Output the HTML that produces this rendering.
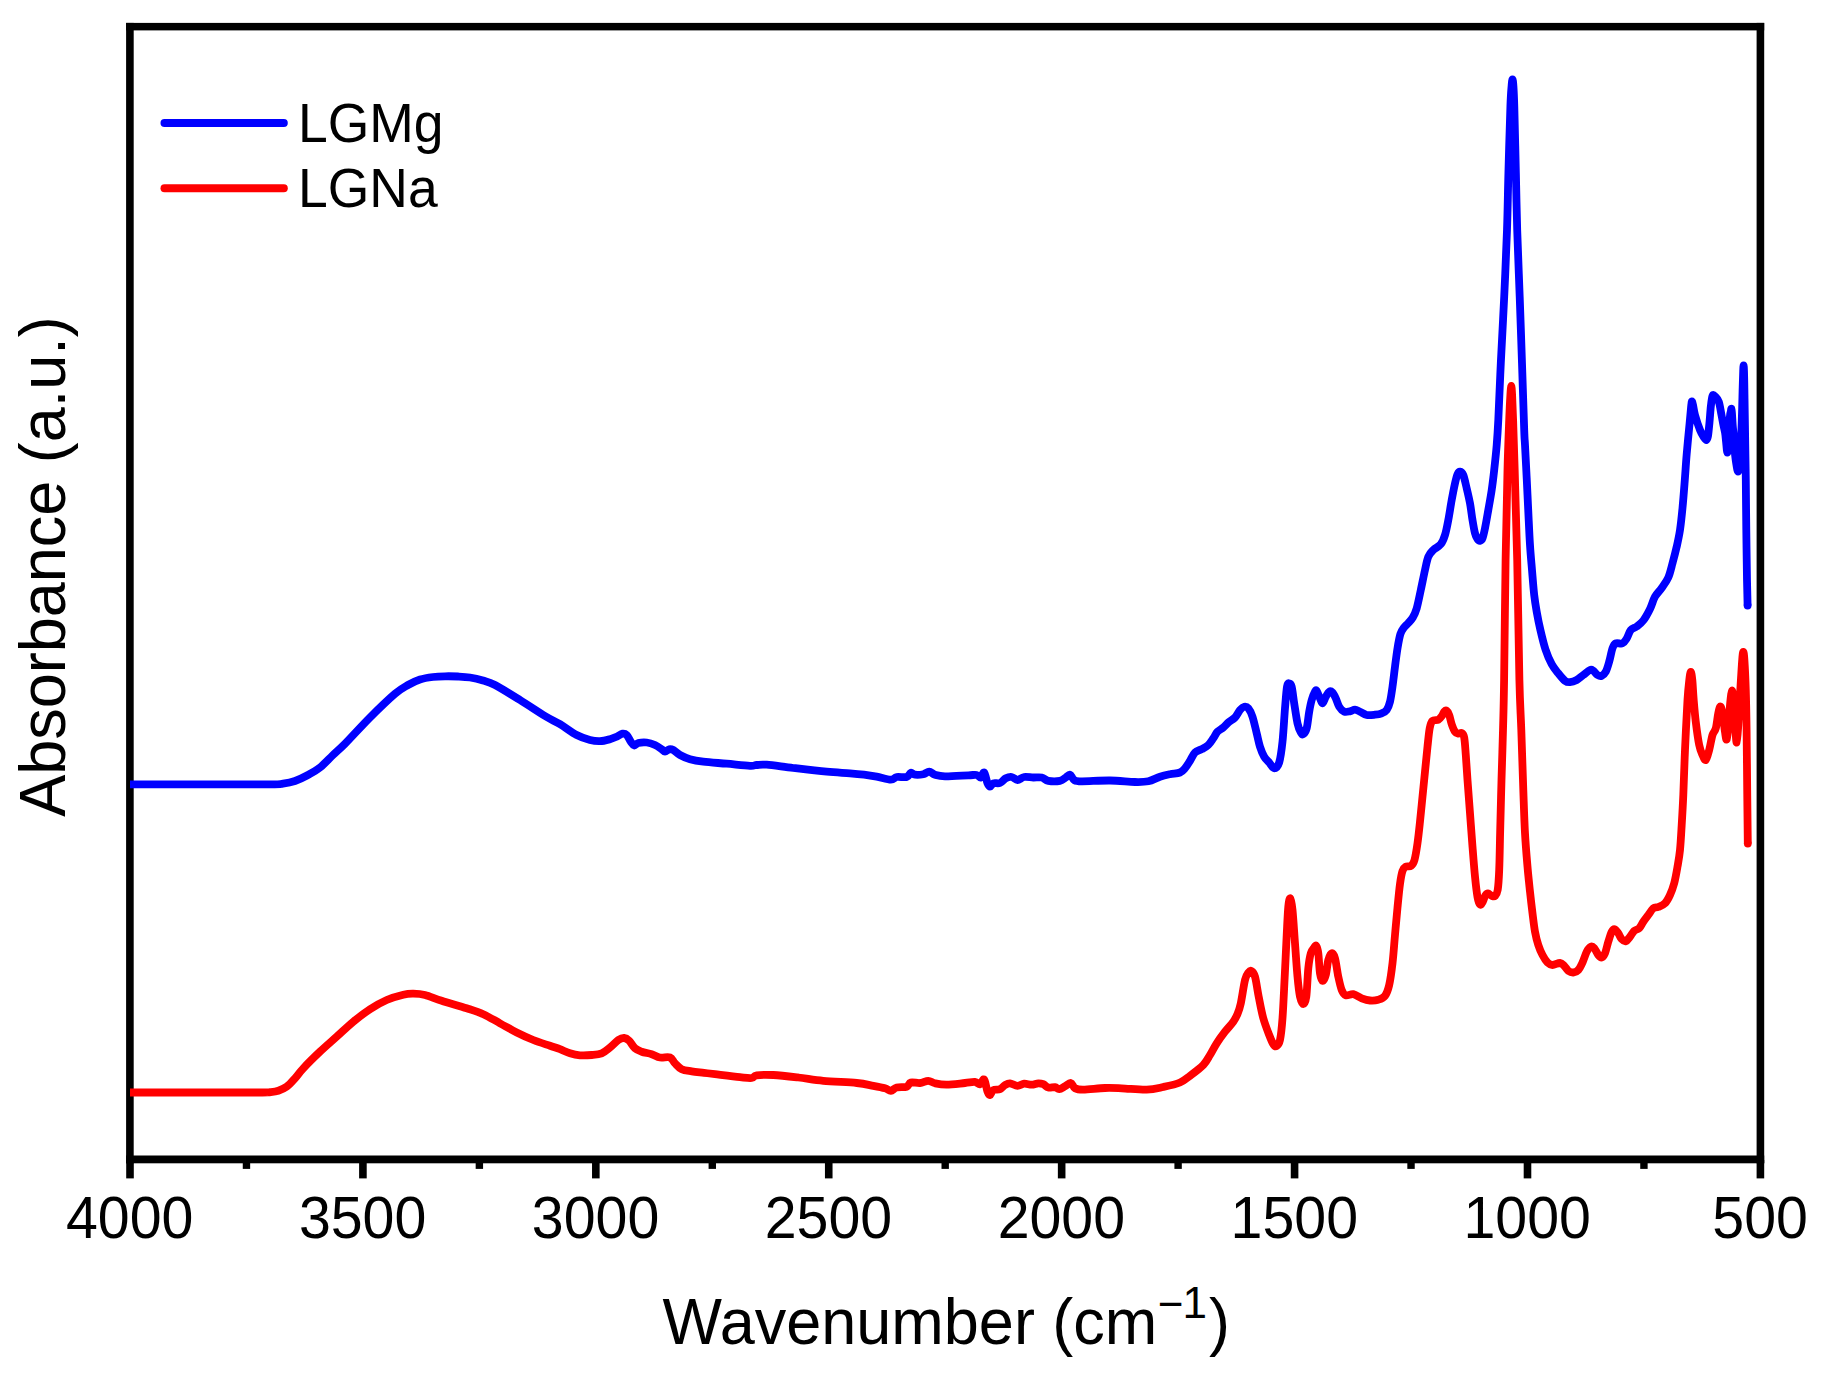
<!DOCTYPE html>
<html><head><meta charset="utf-8"><title>FTIR</title>
<style>
html,body{margin:0;padding:0;background:#fff;}
body{width:1824px;height:1374px;overflow:hidden;}
svg{display:block;font-family:"Liberation Sans",sans-serif;}
</style></head><body>
<svg width="1824" height="1374" viewBox="0 0 1824 1374">
<rect width="1824" height="1374" fill="#fff"/>
<g fill="#000">
<rect x="126.1" y="22.9" width="7.6" height="1140.4"/>
<rect x="1756.6" y="22.9" width="7.6" height="1140.4"/>
<rect x="126.1" y="22.9" width="1638.1" height="7.5"/>
<rect x="126.1" y="1155.5" width="1638.1" height="7.8"/>
<rect x="126.20" y="1160" width="7.6" height="18.4"/><rect x="242.76" y="1160" width="7.4" height="8.9"/><rect x="359.11" y="1160" width="7.6" height="18.4"/><rect x="475.67" y="1160" width="7.4" height="8.9"/><rect x="592.03" y="1160" width="7.6" height="18.4"/><rect x="708.59" y="1160" width="7.4" height="8.9"/><rect x="824.94" y="1160" width="7.6" height="18.4"/><rect x="941.50" y="1160" width="7.4" height="8.9"/><rect x="1057.86" y="1160" width="7.6" height="18.4"/><rect x="1174.41" y="1160" width="7.4" height="8.9"/><rect x="1290.77" y="1160" width="7.6" height="18.4"/><rect x="1407.33" y="1160" width="7.4" height="8.9"/><rect x="1523.69" y="1160" width="7.6" height="18.4"/><rect x="1640.24" y="1160" width="7.4" height="8.9"/><rect x="1756.60" y="1160" width="7.6" height="18.4"/>
</g>
<g fill="none" stroke-linejoin="round" stroke-linecap="butt" stroke-width="7.8">
<path stroke="#0000ff" d="M130.00 784.30C141.67 784.30 176.67 784.30 200.00 784.30C223.33 784.30 256.17 784.42 270.00 784.30C283.83 784.18 278.83 784.15 283.00 783.60C287.17 783.05 291.00 782.35 295.00 781.00C299.00 779.65 302.83 777.75 307.00 775.50C311.17 773.25 315.67 770.92 320.00 767.50C324.33 764.08 328.83 758.95 333.00 755.00C337.17 751.05 338.83 750.05 345.00 743.80C351.17 737.55 361.67 725.83 370.00 717.50C378.33 709.17 388.67 699.22 395.00 693.80C401.33 688.38 403.83 687.38 408.00 685.00C412.17 682.62 415.83 680.83 420.00 679.50C424.17 678.17 428.83 677.53 433.00 677.00C437.17 676.47 440.83 676.38 445.00 676.30C449.17 676.22 453.83 676.30 458.00 676.50C462.17 676.70 465.83 676.83 470.00 677.50C474.17 678.17 478.83 679.25 483.00 680.50C487.17 681.75 488.83 681.75 495.00 685.00C501.17 688.25 511.67 694.83 520.00 700.00C528.33 705.17 538.33 711.97 545.00 716.00C551.67 720.03 554.72 721.03 560.00 724.20C565.28 727.37 571.70 732.37 576.70 735.00C581.70 737.63 586.12 738.97 590.00 740.00C593.88 741.03 596.67 741.33 600.00 741.20C603.33 741.07 607.22 739.95 610.00 739.20C612.78 738.45 614.62 737.62 616.70 736.70C618.78 735.78 620.83 733.98 622.50 733.70C624.17 733.42 625.32 733.67 626.70 735.00C628.08 736.33 629.55 739.95 630.80 741.70C632.05 743.45 632.95 745.28 634.20 745.50C635.45 745.72 636.22 743.50 638.30 743.00C640.38 742.50 643.92 742.17 646.70 742.50C649.48 742.83 652.50 743.88 655.00 745.00C657.50 746.12 660.03 748.08 661.70 749.20C663.37 750.32 663.75 751.70 665.00 751.70C666.25 751.70 667.82 749.48 669.20 749.20C670.58 748.92 671.50 749.03 673.30 750.00C675.10 750.97 677.22 753.47 680.00 755.00C682.78 756.53 686.12 758.08 690.00 759.20C693.88 760.32 697.18 760.95 703.30 761.70C709.42 762.45 718.92 763.02 726.70 763.70C734.48 764.38 745.00 765.58 750.00 765.80C755.00 766.02 753.92 765.18 756.70 765.00C759.48 764.82 760.60 764.20 766.70 764.70C772.80 765.20 783.30 766.83 793.30 768.00C803.30 769.17 817.25 770.82 826.70 771.70C836.15 772.58 843.78 772.80 850.00 773.30C856.22 773.80 859.55 774.13 864.00 774.70C868.45 775.27 872.23 775.87 876.70 776.70C881.17 777.53 887.47 779.65 890.80 779.70C894.13 779.75 894.05 777.45 896.70 777.00C899.35 776.55 904.35 777.70 906.70 777.00C909.05 776.30 909.42 773.18 910.80 772.80C912.18 772.42 912.92 774.47 915.00 774.70C917.08 774.93 920.93 774.70 923.30 774.20C925.67 773.70 927.25 771.62 929.20 771.70C931.15 771.78 932.37 773.93 935.00 774.70C937.63 775.47 939.45 776.20 945.00 776.30C950.55 776.40 963.02 775.52 968.30 775.30C973.58 775.08 974.62 774.63 976.70 775.00C978.78 775.37 979.55 777.92 980.80 777.50C982.05 777.08 983.08 771.53 984.20 772.50C985.32 773.47 986.53 780.93 987.50 783.30C988.47 785.67 989.03 786.70 990.00 786.70C990.97 786.70 991.63 783.92 993.30 783.30C994.97 782.68 997.92 783.83 1000.00 783.00C1002.08 782.17 1003.85 779.30 1005.80 778.30C1007.75 777.30 1009.75 776.72 1011.70 777.00C1013.65 777.28 1015.42 780.00 1017.50 780.00C1019.58 780.00 1021.57 777.42 1024.20 777.00C1026.83 776.58 1030.38 777.42 1033.30 777.50C1036.22 777.58 1039.20 776.95 1041.70 777.50C1044.20 778.05 1045.25 780.25 1048.30 780.80C1051.35 781.35 1057.08 781.35 1060.00 780.80C1062.92 780.25 1064.13 778.52 1065.80 777.50C1067.47 776.48 1068.60 774.28 1070.00 774.70C1071.40 775.12 1072.25 778.90 1074.20 780.00C1076.15 781.10 1075.73 781.22 1081.70 781.30C1087.67 781.38 1101.12 780.38 1110.00 780.50C1118.88 780.62 1128.62 781.87 1135.00 782.00C1141.38 782.13 1144.13 782.18 1148.30 781.30C1152.47 780.42 1156.38 777.88 1160.00 776.70C1163.62 775.52 1166.67 774.90 1170.00 774.20C1173.33 773.50 1177.50 773.48 1180.00 772.50C1182.50 771.52 1183.33 770.25 1185.00 768.30C1186.67 766.35 1188.33 763.43 1190.00 760.80C1191.67 758.17 1193.05 754.43 1195.00 752.50C1196.95 750.57 1199.48 750.45 1201.70 749.20C1203.92 747.95 1206.37 746.82 1208.30 745.00C1210.23 743.18 1211.77 740.52 1213.30 738.30C1214.83 736.08 1215.83 733.50 1217.50 731.70C1219.17 729.90 1221.50 729.03 1223.30 727.50C1225.10 725.97 1226.35 724.17 1228.30 722.50C1230.25 720.83 1233.05 719.58 1235.00 717.50C1236.95 715.42 1238.47 711.80 1240.00 710.00C1241.53 708.20 1242.82 706.98 1244.20 706.70C1245.58 706.42 1246.92 706.63 1248.30 708.30C1249.68 709.97 1251.10 712.53 1252.50 716.70C1253.90 720.87 1255.45 728.30 1256.70 733.30C1257.95 738.30 1258.75 742.80 1260.00 746.70C1261.25 750.60 1262.67 754.07 1264.20 756.70C1265.73 759.33 1267.53 760.57 1269.20 762.50C1270.87 764.43 1272.53 768.30 1274.20 768.30C1275.87 768.30 1277.82 766.93 1279.20 762.50C1280.58 758.07 1281.53 750.73 1282.50 741.70C1283.47 732.67 1284.25 717.47 1285.00 708.30C1285.75 699.13 1286.30 690.87 1287.00 686.70C1287.70 682.53 1288.42 683.30 1289.20 683.30C1289.98 683.30 1290.87 683.37 1291.70 686.70C1292.53 690.03 1293.23 697.20 1294.20 703.30C1295.17 709.40 1296.40 718.43 1297.50 723.30C1298.60 728.17 1299.83 730.68 1300.80 732.50C1301.77 734.32 1302.32 734.90 1303.30 734.20C1304.28 733.50 1305.72 732.05 1306.70 728.30C1307.68 724.55 1308.37 716.42 1309.20 711.70C1310.03 706.98 1310.73 703.33 1311.70 700.00C1312.67 696.67 1314.17 693.23 1315.00 691.70C1315.83 690.17 1315.87 689.70 1316.70 690.80C1317.53 691.90 1319.03 696.22 1320.00 698.30C1320.97 700.38 1321.53 703.57 1322.50 703.30C1323.47 703.03 1324.68 698.63 1325.80 696.70C1326.92 694.77 1328.08 692.40 1329.20 691.70C1330.32 691.00 1331.40 691.40 1332.50 692.50C1333.60 693.60 1334.68 695.93 1335.80 698.30C1336.92 700.67 1337.80 704.47 1339.20 706.70C1340.60 708.93 1342.40 710.93 1344.20 711.70C1346.00 712.47 1348.20 711.63 1350.00 711.30C1351.80 710.97 1353.33 709.63 1355.00 709.70C1356.67 709.77 1358.05 710.82 1360.00 711.70C1361.95 712.58 1364.20 714.50 1366.70 715.00C1369.20 715.50 1372.50 714.98 1375.00 714.70C1377.50 714.42 1379.75 714.08 1381.70 713.30C1383.65 712.52 1385.32 711.93 1386.70 710.00C1388.08 708.07 1389.03 705.58 1390.00 701.70C1390.97 697.82 1391.67 692.53 1392.50 686.70C1393.33 680.87 1394.17 673.10 1395.00 666.70C1395.83 660.30 1396.60 653.75 1397.50 648.30C1398.40 642.85 1399.32 637.47 1400.40 634.00C1401.48 630.53 1402.68 629.33 1404.00 627.50C1405.32 625.67 1406.83 624.67 1408.30 623.00C1409.77 621.33 1411.40 619.95 1412.80 617.50C1414.20 615.05 1415.37 612.88 1416.70 608.30C1418.03 603.72 1419.42 596.38 1420.80 590.00C1422.18 583.62 1423.75 575.55 1425.00 570.00C1426.25 564.45 1426.92 560.03 1428.30 556.70C1429.68 553.37 1431.22 552.08 1433.30 550.00C1435.38 547.92 1438.85 546.70 1440.80 544.20C1442.75 541.70 1443.75 539.03 1445.00 535.00C1446.25 530.97 1447.18 525.83 1448.30 520.00C1449.42 514.17 1450.58 506.12 1451.70 500.00C1452.82 493.88 1454.03 487.60 1455.00 483.30C1455.97 479.00 1456.67 476.13 1457.50 474.20C1458.33 472.27 1459.03 471.57 1460.00 471.70C1460.97 471.83 1462.18 472.23 1463.30 475.00C1464.42 477.77 1465.58 483.58 1466.70 488.30C1467.82 493.02 1469.03 498.02 1470.00 503.30C1470.97 508.58 1471.67 515.00 1472.50 520.00C1473.33 525.00 1474.17 530.10 1475.00 533.30C1475.83 536.50 1476.67 537.95 1477.50 539.20C1478.33 540.45 1479.17 540.95 1480.00 540.80C1480.83 540.65 1481.67 540.38 1482.50 538.30C1483.33 536.22 1484.03 533.02 1485.00 528.30C1485.97 523.58 1487.18 516.38 1488.30 510.00C1489.42 503.62 1490.72 496.67 1491.70 490.00C1492.68 483.33 1493.37 477.50 1494.20 470.00C1495.03 462.50 1496.02 453.33 1496.70 445.00C1497.38 436.67 1497.62 433.62 1498.30 420.00C1498.98 406.38 1499.82 383.85 1500.80 363.30C1501.78 342.75 1503.17 318.92 1504.20 296.70C1505.23 274.48 1506.30 250.57 1507.00 230.00C1507.70 209.43 1507.83 193.85 1508.40 173.30C1508.97 152.75 1509.87 121.25 1510.40 106.70C1510.93 92.15 1511.25 90.53 1511.60 86.00C1511.95 81.47 1512.20 79.50 1512.50 79.50C1512.80 79.50 1513.10 81.47 1513.40 86.00C1513.70 90.53 1513.88 92.15 1514.30 106.70C1514.72 121.25 1515.42 152.75 1515.90 173.30C1516.38 193.85 1516.57 209.43 1517.20 230.00C1517.83 250.57 1518.90 274.48 1519.70 296.70C1520.50 318.92 1521.25 341.08 1522.00 363.30C1522.75 385.52 1523.70 416.38 1524.20 430.00C1524.70 443.62 1524.58 436.95 1525.00 445.00C1525.42 453.05 1526.15 467.18 1526.70 478.30C1527.25 489.42 1527.75 500.58 1528.30 511.70C1528.85 522.82 1529.38 535.28 1530.00 545.00C1530.62 554.72 1531.30 561.67 1532.00 570.00C1532.70 578.33 1533.42 588.05 1534.20 595.00C1534.98 601.95 1535.67 605.87 1536.70 611.70C1537.73 617.53 1538.93 623.70 1540.40 630.00C1541.87 636.30 1543.62 643.80 1545.50 649.50C1547.38 655.20 1549.57 660.23 1551.70 664.20C1553.83 668.17 1556.08 670.53 1558.30 673.30C1560.52 676.07 1563.05 679.32 1565.00 680.80C1566.95 682.28 1568.05 682.33 1570.00 682.20C1571.95 682.07 1574.48 681.20 1576.70 680.00C1578.92 678.80 1581.08 676.67 1583.30 675.00C1585.52 673.33 1588.33 670.70 1590.00 670.00C1591.67 669.30 1592.05 669.97 1593.30 670.80C1594.55 671.63 1596.10 674.17 1597.50 675.00C1598.90 675.83 1600.32 676.35 1601.70 675.80C1603.08 675.25 1604.55 674.05 1605.80 671.70C1607.05 669.35 1608.08 665.60 1609.20 661.70C1610.32 657.80 1611.40 651.37 1612.50 648.30C1613.60 645.23 1614.13 644.13 1615.80 643.30C1617.47 642.47 1620.68 644.10 1622.50 643.30C1624.32 642.50 1625.32 640.72 1626.70 638.50C1628.08 636.28 1629.13 632.00 1630.80 630.00C1632.47 628.00 1634.62 628.08 1636.70 626.50C1638.78 624.92 1641.08 623.42 1643.30 620.50C1645.52 617.58 1648.05 612.97 1650.00 609.00C1651.95 605.03 1653.05 600.20 1655.00 596.70C1656.95 593.20 1659.48 591.20 1661.70 588.00C1663.92 584.80 1666.50 581.62 1668.30 577.50C1670.10 573.38 1671.10 568.43 1672.50 563.30C1673.90 558.17 1675.45 552.25 1676.70 546.70C1677.95 541.15 1679.03 536.45 1680.00 530.00C1680.97 523.55 1681.70 516.33 1682.50 508.00C1683.30 499.67 1684.10 489.00 1684.80 480.00C1685.50 471.00 1685.90 463.45 1686.70 454.00C1687.50 444.55 1688.88 430.97 1689.60 423.30C1690.32 415.63 1690.63 411.63 1691.00 408.00C1691.37 404.37 1691.47 402.00 1691.80 401.50C1692.13 401.00 1692.47 402.75 1693.00 405.00C1693.53 407.25 1693.83 410.83 1695.00 415.00C1696.17 419.17 1698.50 426.25 1700.00 430.00C1701.50 433.75 1702.93 435.83 1704.00 437.50C1705.07 439.17 1705.73 440.25 1706.40 440.00C1707.07 439.75 1707.50 438.78 1708.00 436.00C1708.50 433.22 1708.93 428.18 1709.40 423.30C1709.87 418.42 1710.37 410.92 1710.80 406.70C1711.23 402.48 1711.63 399.95 1712.00 398.00C1712.37 396.05 1712.50 395.28 1713.00 395.00C1713.50 394.72 1714.03 395.18 1715.00 396.30C1715.97 397.42 1717.72 398.58 1718.80 401.70C1719.88 404.82 1720.73 411.12 1721.50 415.00C1722.27 418.88 1722.80 422.00 1723.40 425.00C1724.00 428.00 1724.65 430.17 1725.10 433.00C1725.55 435.83 1725.73 438.72 1726.10 442.00C1726.47 445.28 1726.93 452.70 1727.30 452.70C1727.67 452.70 1727.87 448.00 1728.30 442.00C1728.73 436.00 1729.48 421.78 1729.90 416.70C1730.32 411.62 1730.55 412.83 1730.80 411.50C1731.05 410.17 1731.22 408.53 1731.40 408.70C1731.58 408.87 1731.68 409.78 1731.90 412.50C1732.12 415.22 1732.40 421.08 1732.70 425.00C1733.00 428.92 1733.30 431.00 1733.70 436.00C1734.10 441.00 1734.58 449.83 1735.10 455.00C1735.62 460.17 1736.32 464.25 1736.80 467.00C1737.28 469.75 1737.67 471.50 1738.00 471.50C1738.33 471.50 1738.40 470.58 1738.80 467.00C1739.20 463.42 1739.92 457.33 1740.40 450.00C1740.88 442.67 1741.33 433.00 1741.70 423.00C1742.07 413.00 1742.35 398.67 1742.60 390.00C1742.85 381.33 1743.03 375.08 1743.20 371.00C1743.37 366.92 1743.47 365.50 1743.60 365.50C1743.73 365.50 1743.87 366.92 1744.00 371.00C1744.13 375.08 1744.17 376.17 1744.40 390.00C1744.63 403.83 1745.17 439.00 1745.40 454.00C1745.63 469.00 1745.65 467.33 1745.80 480.00C1745.95 492.67 1746.10 513.33 1746.30 530.00C1746.50 546.67 1746.78 567.42 1747.00 580.00C1747.22 592.58 1747.50 601.25 1747.60 605.50"/>
<path stroke="#ff0000" d="M130.00 1092.50C141.67 1092.50 178.00 1092.50 200.00 1092.50C222.00 1092.50 250.33 1092.55 262.00 1092.50C273.67 1092.45 267.28 1092.48 270.00 1092.20C272.72 1091.92 275.52 1091.72 278.30 1090.80C281.08 1089.88 283.92 1088.78 286.70 1086.70C289.48 1084.62 292.23 1081.37 295.00 1078.30C297.77 1075.23 299.13 1072.73 303.30 1068.30C307.47 1063.87 314.43 1056.97 320.00 1051.70C325.57 1046.43 331.15 1041.70 336.70 1036.70C342.25 1031.70 347.75 1026.28 353.30 1021.70C358.85 1017.12 364.43 1012.82 370.00 1009.20C375.57 1005.58 381.15 1002.42 386.70 1000.00C392.25 997.58 398.87 995.75 403.30 994.70C407.73 993.65 409.68 993.65 413.30 993.70C416.92 993.75 420.27 993.82 425.00 995.00C429.73 996.18 434.75 998.58 441.70 1000.80C448.65 1003.02 459.77 1006.07 466.70 1008.30C473.63 1010.53 477.75 1011.70 483.30 1014.20C488.85 1016.70 494.43 1020.25 500.00 1023.30C505.57 1026.35 511.15 1029.72 516.70 1032.50C522.25 1035.28 527.75 1037.78 533.30 1040.00C538.85 1042.22 545.55 1044.27 550.00 1045.80C554.45 1047.33 556.67 1047.95 560.00 1049.20C563.33 1050.45 566.67 1052.28 570.00 1053.30C573.33 1054.32 576.38 1055.02 580.00 1055.30C583.62 1055.58 588.08 1055.33 591.70 1055.00C595.32 1054.67 598.65 1054.55 601.70 1053.30C604.75 1052.05 607.23 1049.72 610.00 1047.50C612.77 1045.28 615.93 1041.58 618.30 1040.00C620.67 1038.42 622.38 1037.87 624.20 1038.00C626.02 1038.13 627.40 1039.08 629.20 1040.80C631.00 1042.52 632.92 1046.48 635.00 1048.30C637.08 1050.12 638.92 1050.72 641.70 1051.70C644.48 1052.68 648.65 1053.23 651.70 1054.20C654.75 1055.17 656.95 1056.95 660.00 1057.50C663.05 1058.05 667.50 1056.53 670.00 1057.50C672.50 1058.47 673.05 1061.35 675.00 1063.30C676.95 1065.25 678.92 1067.87 681.70 1069.20C684.48 1070.53 687.98 1070.70 691.70 1071.30C695.42 1071.90 700.12 1072.32 704.00 1072.80C707.88 1073.28 709.00 1073.47 715.00 1074.20C721.00 1074.93 733.88 1076.57 740.00 1077.20C746.12 1077.83 748.92 1078.32 751.70 1078.00C754.48 1077.68 753.10 1075.80 756.70 1075.30C760.30 1074.80 766.37 1074.63 773.30 1075.00C780.23 1075.37 789.97 1076.53 798.30 1077.50C806.63 1078.47 813.57 1079.88 823.30 1080.80C833.03 1081.72 848.37 1082.17 856.70 1083.00C865.03 1083.83 868.58 1084.92 873.30 1085.80C878.02 1086.68 882.08 1087.47 885.00 1088.30C887.92 1089.13 888.85 1090.93 890.80 1090.80C892.75 1090.67 894.05 1088.18 896.70 1087.50C899.35 1086.82 904.35 1087.53 906.70 1086.70C909.05 1085.87 908.58 1083.12 910.80 1082.50C913.02 1081.88 917.08 1083.28 920.00 1083.00C922.92 1082.72 925.80 1080.75 928.30 1080.80C930.80 1080.85 931.93 1082.65 935.00 1083.30C938.07 1083.95 941.70 1084.75 946.70 1084.70C951.70 1084.65 960.28 1083.45 965.00 1083.00C969.72 1082.55 972.50 1081.80 975.00 1082.00C977.50 1082.20 978.47 1084.62 980.00 1084.20C981.53 1083.78 982.95 1078.25 984.20 1079.50C985.45 1080.75 986.53 1089.12 987.50 1091.70C988.47 1094.28 989.03 1095.28 990.00 1095.00C990.97 1094.72 991.63 1090.97 993.30 1090.00C994.97 1089.03 998.05 1090.03 1000.00 1089.20C1001.95 1088.37 1003.33 1085.98 1005.00 1085.00C1006.67 1084.02 1007.92 1083.17 1010.00 1083.30C1012.08 1083.43 1015.13 1085.73 1017.50 1085.80C1019.87 1085.87 1021.83 1083.88 1024.20 1083.70C1026.57 1083.52 1029.35 1084.77 1031.70 1084.70C1034.05 1084.63 1036.37 1083.38 1038.30 1083.30C1040.23 1083.22 1041.63 1083.50 1043.30 1084.20C1044.97 1084.90 1046.35 1087.00 1048.30 1087.50C1050.25 1088.00 1053.18 1086.92 1055.00 1087.20C1056.82 1087.48 1057.53 1089.35 1059.20 1089.20C1060.87 1089.05 1063.07 1087.33 1065.00 1086.30C1066.93 1085.27 1069.13 1082.67 1070.80 1083.00C1072.47 1083.33 1072.92 1087.18 1075.00 1088.30C1077.08 1089.42 1078.30 1089.75 1083.30 1089.70C1088.30 1089.65 1098.60 1088.23 1105.00 1088.00C1111.40 1087.77 1114.75 1088.02 1121.70 1088.30C1128.65 1088.58 1139.77 1089.92 1146.70 1089.70C1153.63 1089.48 1157.75 1088.20 1163.30 1087.00C1168.85 1085.80 1175.55 1084.37 1180.00 1082.50C1184.45 1080.63 1186.12 1078.72 1190.00 1075.80C1193.88 1072.88 1199.97 1068.47 1203.30 1065.00C1206.63 1061.53 1207.77 1058.62 1210.00 1055.00C1212.23 1051.38 1214.20 1047.18 1216.70 1043.30C1219.20 1039.42 1222.23 1035.30 1225.00 1031.70C1227.77 1028.10 1231.22 1024.65 1233.30 1021.70C1235.38 1018.75 1236.25 1017.07 1237.50 1014.00C1238.75 1010.93 1239.55 1008.97 1240.80 1003.30C1242.05 997.63 1243.72 985.13 1245.00 980.00C1246.28 974.87 1247.45 974.00 1248.50 972.50C1249.55 971.00 1250.22 970.30 1251.30 971.00C1252.38 971.70 1253.77 972.42 1255.00 976.70C1256.23 980.98 1257.32 989.77 1258.70 996.70C1260.08 1003.63 1261.55 1011.92 1263.30 1018.30C1265.05 1024.68 1267.53 1030.68 1269.20 1035.00C1270.87 1039.32 1272.05 1042.37 1273.30 1044.20C1274.55 1046.03 1275.58 1046.70 1276.70 1046.00C1277.82 1045.30 1279.03 1044.62 1280.00 1040.00C1280.97 1035.38 1281.72 1028.85 1282.50 1018.30C1283.28 1007.75 1284.00 990.58 1284.70 976.70C1285.40 962.82 1286.10 946.67 1286.70 935.00C1287.30 923.33 1287.70 912.82 1288.30 906.70C1288.90 900.58 1289.60 897.75 1290.30 898.30C1291.00 898.85 1291.72 902.50 1292.50 910.00C1293.28 917.50 1294.17 932.18 1295.00 943.30C1295.83 954.42 1296.67 967.80 1297.50 976.70C1298.33 985.60 1299.03 992.12 1300.00 996.70C1300.97 1001.28 1302.25 1004.20 1303.30 1004.20C1304.35 1004.20 1305.47 1002.68 1306.30 996.70C1307.13 990.72 1307.55 975.53 1308.30 968.30C1309.05 961.07 1309.82 956.77 1310.80 953.30C1311.78 949.83 1313.28 948.72 1314.20 947.50C1315.12 946.28 1315.62 945.03 1316.30 946.00C1316.98 946.97 1317.68 948.75 1318.30 953.30C1318.92 957.85 1319.30 968.72 1320.00 973.30C1320.70 977.88 1321.53 980.52 1322.50 980.80C1323.47 981.08 1324.83 978.47 1325.80 975.00C1326.77 971.53 1327.32 963.62 1328.30 960.00C1329.28 956.38 1330.58 953.58 1331.70 953.30C1332.82 953.02 1333.90 954.40 1335.00 958.30C1336.10 962.20 1337.18 971.42 1338.30 976.70C1339.42 981.98 1340.45 986.90 1341.70 990.00C1342.95 993.10 1343.87 994.60 1345.80 995.30C1347.73 996.00 1350.65 993.70 1353.30 994.20C1355.95 994.70 1358.92 997.25 1361.70 998.30C1364.48 999.35 1367.23 1000.27 1370.00 1000.50C1372.77 1000.73 1375.80 1000.48 1378.30 999.70C1380.80 998.92 1383.18 998.25 1385.00 995.80C1386.82 993.35 1387.95 990.42 1389.20 985.00C1390.45 979.58 1391.53 971.63 1392.50 963.30C1393.47 954.97 1394.17 944.30 1395.00 935.00C1395.83 925.70 1396.67 916.00 1397.50 907.50C1398.33 899.00 1399.17 890.08 1400.00 884.00C1400.83 877.92 1401.53 873.88 1402.50 871.00C1403.47 868.12 1404.38 867.53 1405.80 866.70C1407.22 865.87 1409.55 867.12 1411.00 866.00C1412.45 864.88 1413.42 863.78 1414.50 860.00C1415.58 856.22 1416.58 849.68 1417.50 843.30C1418.42 836.92 1419.17 829.47 1420.00 821.70C1420.83 813.93 1421.67 805.03 1422.50 796.70C1423.33 788.37 1424.17 780.03 1425.00 771.70C1425.83 763.37 1426.72 753.93 1427.50 746.70C1428.28 739.47 1428.87 732.62 1429.70 728.30C1430.53 723.98 1431.07 722.23 1432.50 720.80C1433.93 719.37 1436.72 720.53 1438.30 719.70C1439.88 718.87 1441.02 717.13 1442.00 715.80C1442.98 714.47 1443.42 712.53 1444.20 711.70C1444.98 710.87 1445.87 710.25 1446.70 710.80C1447.53 711.35 1448.37 712.77 1449.20 715.00C1450.03 717.23 1450.73 721.42 1451.70 724.20C1452.67 726.98 1453.90 730.12 1455.00 731.70C1456.10 733.28 1457.18 733.48 1458.30 733.70C1459.42 733.92 1460.72 732.37 1461.70 733.00C1462.68 733.63 1463.52 733.83 1464.20 737.50C1464.88 741.17 1465.25 747.92 1465.80 755.00C1466.35 762.08 1466.80 770.28 1467.50 780.00C1468.20 789.72 1469.17 802.18 1470.00 813.30C1470.83 824.42 1471.67 836.13 1472.50 846.70C1473.33 857.27 1474.17 868.32 1475.00 876.70C1475.83 885.08 1476.67 892.37 1477.50 897.00C1478.33 901.63 1479.13 903.67 1480.00 904.50C1480.87 905.33 1481.82 903.50 1482.70 902.00C1483.58 900.50 1484.42 896.92 1485.30 895.50C1486.18 894.08 1486.93 893.45 1488.00 893.50C1489.07 893.55 1490.53 895.38 1491.70 895.80C1492.87 896.22 1494.00 896.97 1495.00 896.00C1496.00 895.03 1497.00 894.33 1497.70 890.00C1498.40 885.67 1498.78 880.00 1499.20 870.00C1499.62 860.00 1499.82 845.00 1500.20 830.00C1500.58 815.00 1501.03 796.67 1501.50 780.00C1501.97 763.33 1502.57 746.67 1503.00 730.00C1503.43 713.33 1503.67 708.33 1504.10 680.00C1504.53 651.67 1505.03 595.00 1505.60 560.00C1506.17 525.00 1506.90 493.33 1507.50 470.00C1508.10 446.67 1508.72 432.50 1509.20 420.00C1509.68 407.50 1510.05 400.67 1510.40 395.00C1510.75 389.33 1511.02 386.00 1511.30 386.00C1511.58 386.00 1511.80 389.33 1512.10 395.00C1512.40 400.67 1512.67 407.50 1513.10 420.00C1513.53 432.50 1514.02 446.67 1514.70 470.00C1515.38 493.33 1516.42 525.00 1517.20 560.00C1517.98 595.00 1518.72 651.67 1519.40 680.00C1520.08 708.33 1520.65 711.67 1521.30 730.00C1521.95 748.33 1522.68 772.78 1523.30 790.00C1523.92 807.22 1524.30 820.52 1525.00 833.30C1525.70 846.08 1526.67 856.97 1527.50 866.70C1528.33 876.43 1529.17 883.93 1530.00 891.70C1530.83 899.47 1531.67 906.63 1532.50 913.30C1533.33 919.97 1534.03 926.42 1535.00 931.70C1535.97 936.98 1537.05 941.12 1538.30 945.00C1539.55 948.88 1540.97 952.08 1542.50 955.00C1544.03 957.92 1545.83 960.83 1547.50 962.50C1549.17 964.17 1550.42 964.92 1552.50 965.00C1554.58 965.08 1558.05 962.87 1560.00 963.00C1561.95 963.13 1562.82 964.50 1564.20 965.80C1565.58 967.10 1566.78 969.68 1568.30 970.80C1569.82 971.92 1571.63 972.63 1573.30 972.50C1574.97 972.37 1576.77 971.67 1578.30 970.00C1579.83 968.33 1581.10 965.55 1582.50 962.50C1583.90 959.45 1585.32 954.33 1586.70 951.70C1588.08 949.07 1589.55 947.32 1590.80 946.70C1592.05 946.08 1592.95 946.62 1594.20 948.00C1595.45 949.38 1597.05 953.42 1598.30 955.00C1599.55 956.58 1600.58 957.78 1601.70 957.50C1602.82 957.22 1603.90 955.93 1605.00 953.30C1606.10 950.67 1607.18 945.30 1608.30 941.70C1609.42 938.10 1610.63 933.78 1611.70 931.70C1612.77 929.62 1613.60 928.93 1614.70 929.20C1615.80 929.47 1617.13 931.63 1618.30 933.30C1619.47 934.97 1620.45 937.87 1621.70 939.20C1622.95 940.53 1624.42 941.72 1625.80 941.30C1627.18 940.88 1628.60 938.45 1630.00 936.70C1631.40 934.95 1632.67 932.20 1634.20 930.80C1635.73 929.40 1637.68 929.82 1639.20 928.30C1640.72 926.78 1641.78 923.92 1643.30 921.70C1644.82 919.48 1646.63 917.23 1648.30 915.00C1649.97 912.77 1651.63 909.63 1653.30 908.30C1654.97 906.97 1656.35 907.83 1658.30 907.00C1660.25 906.17 1663.05 905.30 1665.00 903.30C1666.95 901.30 1668.47 898.33 1670.00 895.00C1671.53 891.67 1672.95 888.02 1674.20 883.30C1675.45 878.58 1676.53 872.25 1677.50 866.70C1678.47 861.15 1679.30 856.95 1680.00 850.00C1680.70 843.05 1681.15 834.17 1681.70 825.00C1682.25 815.83 1682.75 807.50 1683.30 795.00C1683.85 782.50 1684.30 765.83 1685.00 750.00C1685.70 734.17 1686.78 711.67 1687.50 700.00C1688.22 688.33 1688.75 684.67 1689.30 680.00C1689.85 675.33 1690.30 672.00 1690.80 672.00C1691.30 672.00 1691.82 675.33 1692.30 680.00C1692.78 684.67 1693.12 693.00 1693.70 700.00C1694.28 707.00 1694.88 714.50 1695.80 722.00C1696.72 729.50 1698.08 739.50 1699.20 745.00C1700.32 750.50 1701.40 752.50 1702.50 755.00C1703.60 757.50 1704.68 760.83 1705.80 760.00C1706.92 759.17 1708.08 754.17 1709.20 750.00C1710.32 745.83 1711.40 738.62 1712.50 735.00C1713.60 731.38 1714.83 731.97 1715.80 728.30C1716.77 724.63 1717.50 716.63 1718.30 713.00C1719.10 709.37 1719.85 706.17 1720.60 706.50C1721.35 706.83 1722.07 710.75 1722.80 715.00C1723.53 719.25 1724.35 727.92 1725.00 732.00C1725.65 736.08 1726.12 740.67 1726.70 739.50C1727.28 738.33 1727.90 731.25 1728.50 725.00C1729.10 718.75 1729.70 707.75 1730.30 702.00C1730.90 696.25 1731.52 690.50 1732.10 690.50C1732.68 690.50 1733.27 695.75 1733.80 702.00C1734.33 708.25 1734.82 721.25 1735.30 728.00C1735.78 734.75 1736.20 743.00 1736.70 742.50C1737.20 742.00 1737.70 733.75 1738.30 725.00C1738.90 716.25 1739.65 700.83 1740.30 690.00C1740.95 679.17 1741.70 666.33 1742.20 660.00C1742.70 653.67 1742.93 652.00 1743.30 652.00C1743.67 652.00 1743.98 653.67 1744.40 660.00C1744.82 666.33 1745.43 678.33 1745.80 690.00C1746.17 701.67 1746.37 713.33 1746.60 730.00C1746.83 746.67 1747.00 771.07 1747.20 790.00C1747.40 808.93 1747.70 834.67 1747.80 843.60"/>
</g>
<circle cx="1747.6" cy="605.5" r="3.9" fill="#0000ff"/>
<circle cx="1747.8" cy="843.6" r="3.9" fill="#ff0000"/>
<g fill="#000" font-size="57.3"><text transform="translate(129.70,1237.5) scale(1,1.02)" text-anchor="middle">4000</text><text transform="translate(362.61,1237.5) scale(1,1.02)" text-anchor="middle">3500</text><text transform="translate(595.53,1237.5) scale(1,1.02)" text-anchor="middle">3000</text><text transform="translate(828.44,1237.5) scale(1,1.02)" text-anchor="middle">2500</text><text transform="translate(1061.36,1237.5) scale(1,1.02)" text-anchor="middle">2000</text><text transform="translate(1294.27,1237.5) scale(1,1.02)" text-anchor="middle">1500</text><text transform="translate(1527.19,1237.5) scale(1,1.02)" text-anchor="middle">1000</text><text transform="translate(1760.10,1237.5) scale(1,1.02)" text-anchor="middle">500</text></g>
<g stroke-width="8" stroke-linecap="round">
<line x1="164.5" y1="122.9" x2="283.8" y2="122.9" stroke="#0000ff"/>
<line x1="164.5" y1="188.3" x2="283.8" y2="188.3" stroke="#ff0000"/>
</g>
<g fill="#000" font-size="53.5">
<text transform="translate(297.9,141.7) scale(1,1.045)">LGMg</text>
<text transform="translate(297.9,206.6) scale(1,1.045)">LGNa</text>
</g>
<text transform="translate(0,1343.6) scale(1,1.02)" fill="#000" font-size="63"><tspan x="662.6" y="0">Wavenumber (cm</tspan><tspan x="1157.8" y="-24.2" font-size="44">−</tspan><tspan x="1182.5" y="-25.5" font-size="44">1</tspan><tspan x="1209" y="0">)</tspan></text>
<text transform="translate(64.6,566.5) rotate(-90) scale(1,1.02)" text-anchor="middle" font-size="63" fill="#000">Absorbance (a.u.)</text>
</svg>
</body></html>
